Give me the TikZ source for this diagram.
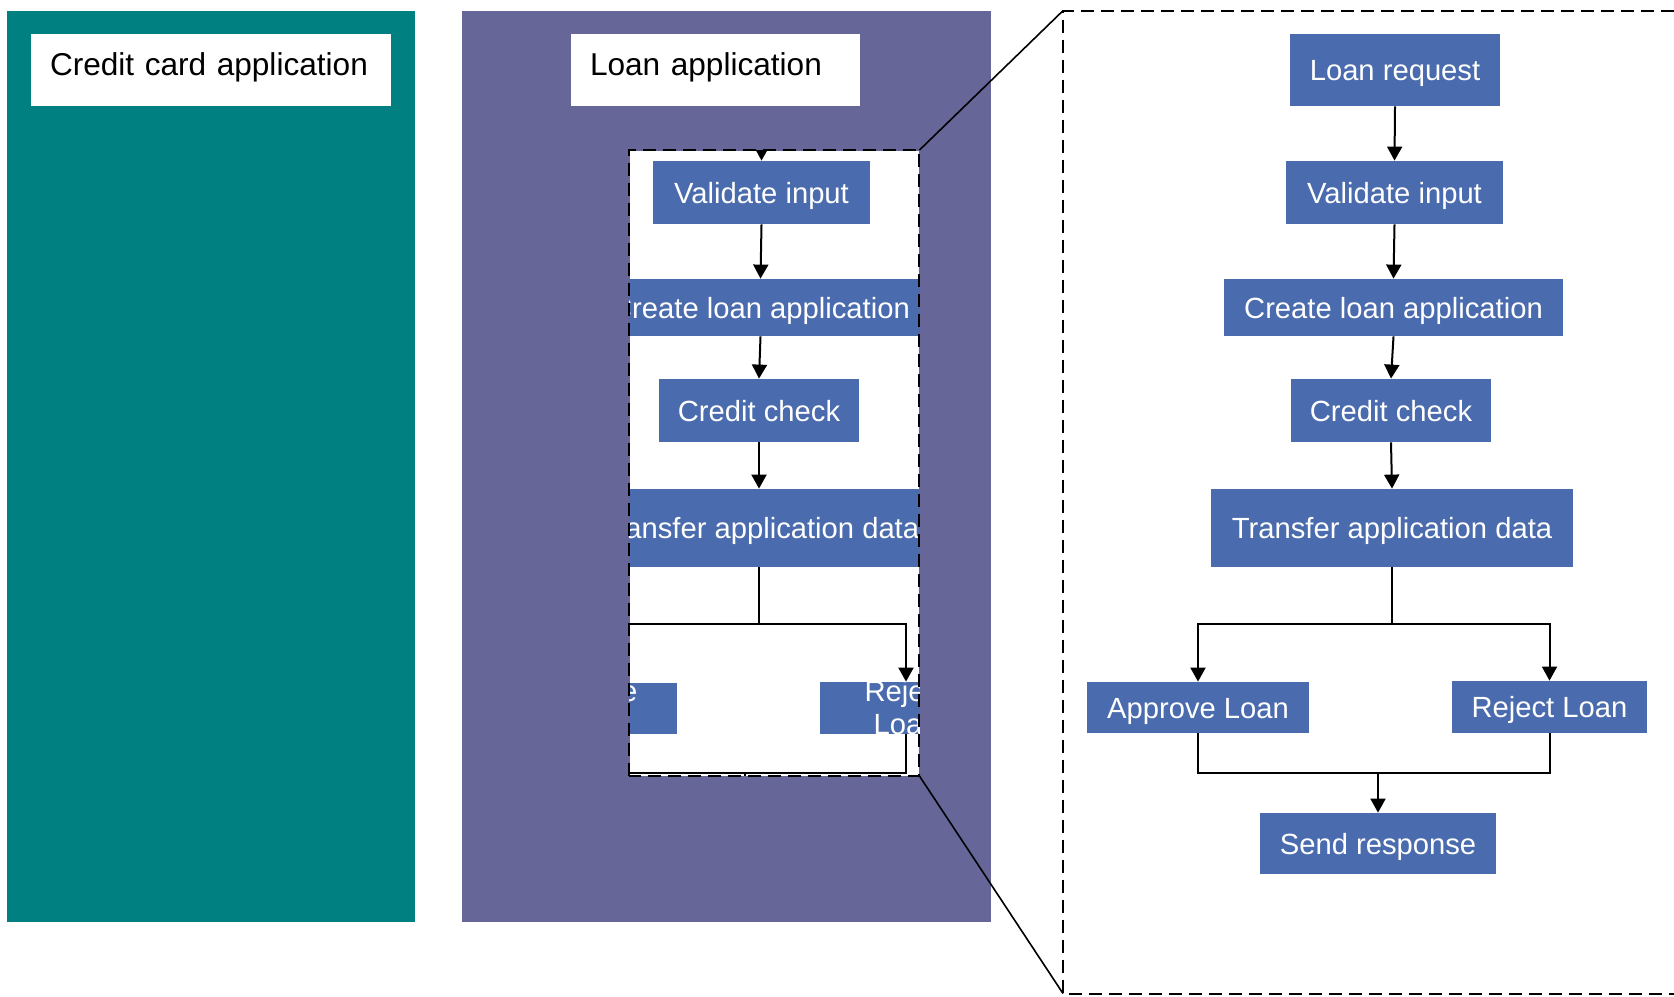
\documentclass[tikz,border=0pt]{standalone}
\usepackage{fontspec}
\setmainfont{Liberation Sans}
\usetikzlibrary{arrows.meta}
\definecolor{tealpanel}{HTML}{008080}
\definecolor{purplepanel}{HTML}{666699}
\definecolor{stepblue}{HTML}{4A6BAD}
\tikzset{
  panel/.style={draw=none, inner sep=0pt},
  lab/.style={fill=white, draw=none, inner xsep=9.5pt, inner ysep=0pt, minimum height=36pt, align=left, text=black, font=\fontsize{15.8}{19}\selectfont, text height=11.5pt, text depth=6.5pt},
  stepbox/.style={fill=stepblue, draw=none, inner sep=0pt, text=white, font=\fontsize{14.6}{16.5}\selectfont, text height=10.5pt, text depth=0pt},
  plainbox/.style={fill=stepblue, draw=none, inner sep=0pt},
  wraptext/.style={inner sep=0pt, text=white, align=center, font=\fontsize{14.6}{16.5}\selectfont},
  conn/.style={line width=1pt, draw=black},
  arr/.style={conn, -{Triangle[length=7pt,width=7.5pt]}},
  dashline/.style={line width=1pt, dash pattern=on 6.5pt off 3.5pt},
  zoomline/.style={line width=0.8pt}
}
\begin{document}
\begin{tikzpicture}[x=0.5pt, y=-0.5pt]
\useasboundingbox (0,0) rectangle (1674,996);

% panels
\node[panel, fill=tealpanel, minimum width=204pt, minimum height=455.65pt] (tealp) at (211,466.35) {};
\node[panel, fill=purplepanel, minimum width=264.5pt, minimum height=455.65pt] (purp) at (726.5,466.35) {};
\node[lab, text width=161pt] (ccl) at (211,70) {Credit card application};
\node[lab, text width=125.5pt] (lal) at (715.5,70) {Loan application};

% inset
\node[panel, fill=white, minimum width=144.75pt, minimum height=312.5pt] (inset) at (774.25,463) {};
\begin{scope}
  \clip (inset.south west) rectangle (inset.north east);
  \coordinate (ilrb) at (762,106);
  \node[stepbox, minimum width=108.5pt, minimum height=31.5pt] (ivi) at (761.5,192.5) {Validate input};
  \node[stepbox, minimum width=169.5pt, minimum height=28.5pt] (icla) at (760.5,307.5) {Create loan application};
  \node[stepbox, minimum width=100pt, minimum height=31.5pt] (icc) at (759,410.5) {Credit check};
  \node[stepbox, minimum width=181pt, minimum height=39pt] (itad) at (759,528) {Transfer application data};
  \node[plainbox, minimum width=111pt, minimum height=25.5pt] (ial) at (565.5,708) {};
  \node[wraptext] (ialt) at (583,708) {Approve\\Loan};
  \node[plainbox, minimum width=86pt, minimum height=26pt] (irl) at (906,708) {};
  \node[wraptext] (irlt) at (906,708) {Reject\\Loan};
  \coordinate (ibr) at (759,624);
  \coordinate (imrg) at (745,773);
  \coordinate (isrt) at (745,813);
  \draw[arr] (ilrb) -- (ivi.north);
  \draw[arr] (ivi.south) -- (icla.north);
  \draw[arr] (icla.south) -- (icc.north);
  \draw[arr] (icc.south) -- (itad.north);
  \draw[conn] (itad.south) -- (itad.south |- ibr);
  \draw[arr] (itad.south |- ibr) -| (ial.north);
  \draw[arr] (itad.south |- ibr) -| (irl.north);
  \draw[conn] (ial.south) |- (irl.south |- imrg) -- (irl.south);
  \draw[arr] (imrg) -- (isrt);
\end{scope}
\draw[dashline] (inset.south west) rectangle (inset.north east);

% big zoom frame
\coordinate (zbnw) at (1063,10.7);
\coordinate (zbsw) at (1063,993.5);
\coordinate (zbne) at (1674,10.7);
\coordinate (zbse) at (1674,993.5);
\draw[dashline] (zbne) -- (zbnw) -- (zbsw) -- (zbse);
\draw[zoomline] (inset.north east) -- (zbnw);
\draw[zoomline] (inset.south east) -- (zbsw);

% main flowchart
\node[stepbox, minimum width=105pt, minimum height=36pt] (lr) at (1395,70) {Loan request};
\node[stepbox, minimum width=108.5pt, minimum height=31.5pt] (vi) at (1394.5,192.5) {Validate input};
\node[stepbox, minimum width=169.5pt, minimum height=28.5pt] (cla) at (1393.5,307.5) {Create loan application};
\node[stepbox, minimum width=100pt, minimum height=31.5pt] (cc) at (1391,410.5) {Credit check};
\node[stepbox, minimum width=181pt, minimum height=39pt] (tad) at (1392,528) {Transfer application data};
\node[stepbox, minimum width=111pt, minimum height=25.5pt] (al) at (1198,707.5) {Approve Loan};
\node[stepbox, minimum width=97.5pt, minimum height=26pt] (rl) at (1549.5,707) {Reject Loan};
\node[stepbox, minimum width=118pt, minimum height=30.5pt] (sr) at (1378,843.5) {Send response};
\coordinate (br) at (1391,624);
\coordinate (mg) at (1378,773);

\draw[arr] (lr.south) -- (vi.north);
\draw[arr] (vi.south) -- (cla.north);
\draw[arr] (cla.south) -- (cc.north);
\draw[arr] (cc.south) -- (tad.north);
\draw[conn] (tad.south) -- (tad.south |- br);
\draw[arr] (tad.south |- br) -| (al.north);
\draw[arr] (tad.south |- br) -| (rl.north);
\draw[conn] (al.south) |- (rl.south |- mg) -- (rl.south);
\draw[arr] (mg) -- (sr.north);
\end{tikzpicture}
\end{document}
